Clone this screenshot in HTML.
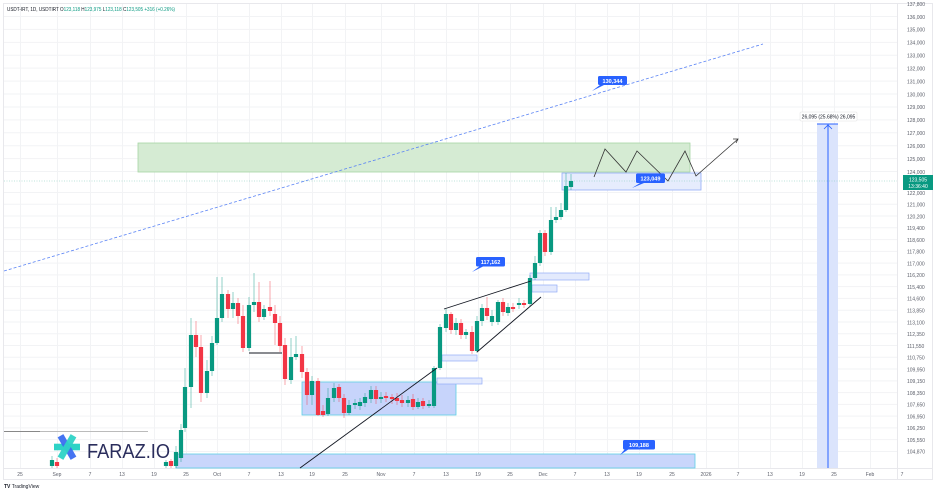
<!DOCTYPE html>
<html><head><meta charset="utf-8"><style>
html,body{margin:0;padding:0;background:#fff;}
body{width:936px;height:492px;overflow:hidden;font-family:"Liberation Sans",sans-serif;}
svg{display:block}
</style></head><body>
<svg id="s" width="936" height="492" viewBox="0 0 936 492" xmlns="http://www.w3.org/2000/svg" font-family="Liberation Sans, sans-serif">
<rect x="0" y="0" width="936" height="492" fill="#fff"/>
<g id="grid" stroke="#f2f3f5" stroke-width="1"></g>
<rect x="3.5" y="3.5" width="929" height="476" fill="none" stroke="#e8e8ec"/>
<line x1="897.5" y1="4" x2="897.5" y2="479" stroke="#e8e8ec"/>
<line x1="4" y1="468.5" x2="932" y2="468.5" stroke="#e8e8ec"/>
<!-- header -->
<text x="7" y="11" font-size="5" fill="#131722" textLength="168" lengthAdjust="spacingAndGlyphs">USDT-IRT, 1D, USDTIRT  O<tspan fill="#089981">123,118</tspan>  H<tspan fill="#089981">123,975</tspan>  L<tspan fill="#089981">123,118</tspan>  C<tspan fill="#089981">123,505</tspan>  <tspan fill="#089981">+316 (+0.26%)</tspan></text>
<!-- zones -->
<rect x="138" y="143" width="552" height="29" fill="#d5ebd3" stroke="#a6d5a4" stroke-width="0.8"/>
<rect x="562" y="173" width="139" height="17" fill="#e6ecfd" stroke="#93acf7" stroke-width="0.8"/>
<rect x="302" y="382" width="154" height="33" fill="#c7d4fb" stroke="#5ecfe6" stroke-width="0.8"/>
<rect x="176" y="454" width="519" height="14" fill="#c9d6fb" stroke="#5ecfe6" stroke-width="0.8"/>
<rect x="530" y="273" width="59" height="7" fill="#e3eafd" stroke="#93acf7" stroke-width="0.7"/>
<rect x="532" y="285" width="25" height="7" fill="#e3eafd" stroke="#93acf7" stroke-width="0.7"/>
<rect x="442" y="355" width="35" height="6" fill="#e3eafd" stroke="#93acf7" stroke-width="0.7"/>
<rect x="437" y="378" width="45" height="6" fill="#e3eafd" stroke="#93acf7" stroke-width="0.7"/>
<rect x="817" y="124" width="21" height="344" fill="#dbe4fc"/>
<line x1="828" y1="124" x2="828" y2="468" stroke="#2962ff" stroke-width="1"/>
<line x1="817" y1="124" x2="838" y2="124" stroke="#2962ff" stroke-width="1"/>
<path d="M824,129 L828,125 L832,129" fill="none" stroke="#2962ff" stroke-width="0.8"/>
<rect x="800" y="112" width="57" height="9" fill="#fff" stroke="#e0e0e0" stroke-width="0.5" rx="1"/>
<text x="828.5" y="118.6" font-size="5" text-anchor="middle" fill="#131722">26,095 (25.68%) 26,095</text>
<!-- dashed blue trendline -->
<line x1="4" y1="271" x2="763" y2="44" stroke="#5b84f5" stroke-width="0.8" stroke-dasharray="3,2"/>
<!-- current price line -->
<line x1="4" y1="181" x2="897" y2="181" stroke="#7fc9b8" stroke-width="0.6" stroke-dasharray="1,1.5"/>
<g id="candles"></g>
<!-- black lines -->
<g stroke="#131722" stroke-width="0.9" fill="none">
<line x1="300" y1="468" x2="437" y2="368"/>
<line x1="249" y1="353" x2="282" y2="353"/>
<line x1="444" y1="309" x2="531" y2="281"/>
<line x1="477" y1="352" x2="541" y2="297"/>
<polyline points="594,177 605,149 626,172 637,151 668,181 685,151 696,176 738,139" stroke="#333" stroke-width="0.8"/>
<path d="M733,139 L738,139 L736,143" stroke="#333" stroke-width="0.8"/>
</g>
<line x1="4" y1="431.5" x2="40" y2="431.5" stroke="#888" stroke-width="1"/>
<line x1="40" y1="431.5" x2="148" y2="431.5" stroke="#bbb" stroke-width="1"/>
<!-- labels -->
<g font-size="5.5" font-weight="bold" fill="#fff" text-anchor="middle">
<path d="M600,85 L592,91 L604,85Z" fill="#2962ff"/><rect x="598" y="76" width="29" height="9" rx="1.5" fill="#2962ff"/><text x="612.5" y="82.8">130,344</text>
<path d="M480,266 L472,272 L484,266Z" fill="#2962ff"/><rect x="476" y="257" width="29" height="9.5" rx="1.5" fill="#2962ff"/><text x="490.5" y="264">117,162</text>
<path d="M640,183 L632,188 L644,183Z" fill="#2962ff"/><rect x="636" y="173.5" width="29" height="9.5" rx="1.5" fill="#2962ff"/><text x="650.5" y="180.5">123,049</text>
<path d="M625,449 L620,455 L629,449Z" fill="#2962ff"/><rect x="623" y="440" width="32" height="9.5" rx="1.5" fill="#2962ff"/><text x="639" y="447">109,188</text>
</g>
<!-- price tag -->
<rect x="903" y="175" width="30" height="15" fill="#089981"/>
<text x="918" y="181.5" font-size="5" fill="#fff" text-anchor="middle">123,505</text>
<text x="918" y="187.8" font-size="5" fill="#fff" text-anchor="middle">13:36:40</text>
<g id="yl" font-size="5" fill="#5d606b"></g>
<g id="xl" font-size="5" fill="#5d606b" text-anchor="middle"></g>
<!-- logo -->
<g transform="translate(67,447)">
<rect x="-13" y="-3.3" width="26" height="6.6" fill="#2ed3c6"/>
<rect x="-13" y="-3.3" width="26" height="6.6" fill="#3b6df0" transform="rotate(60)" opacity="0.95"/>
<rect x="-13" y="-3.3" width="26" height="6.6" fill="#2ed3c6" transform="rotate(-60)" opacity="0.95"/>
</g>
<text x="87" y="458" font-size="20" fill="#2a2d5c" textLength="83" lengthAdjust="spacingAndGlyphs">FARAZ.IO</text>
<!-- footer -->
<text x="4" y="488" font-size="5" fill="#131722"><tspan font-weight="bold">TV</tspan> TradingView</text>
</svg>
<script>
var NS="http://www.w3.org/2000/svg";
function el(p,t,a,txt){var e=document.createElementNS(NS,t);for(var k in a)e.setAttribute(k,a[k]);if(txt)e.textContent=txt;p.appendChild(e);return e;}
var grid=document.getElementById('grid'),yl=document.getElementById('yl'),xl=document.getElementById('xl');
var ys=[["137,800",4]];
var up=["136,000","135,000","134,000","133,000","132,000","131,000","130,000","129,000","128,000","127,000","126,000","125,000","124,000"];
up.forEach(function(t,i){ys.push([t,17+i*12.92]);});
var lo=["122,000","121,000","120,200","119,400","118,600","117,800","117,000","116,200","115,400","114,600","113,850","113,100","112,350","111,550","110,750","109,950","109,150","108,350","107,650","106,950","106,250","105,550","104,870"];
lo.forEach(function(t,i){ys.push([t,193+i*11.77]);});
ys.forEach(function(a){var y=a[1];if(y>6){el(grid,'line',{x1:4,x2:897,y1:y-0.5,y2:y-0.5});}
 el(yl,'text',{x:907,y:y+1.8},a[0]);});
var xs=[["25",20],["Sep",57],["7",90],["13",122],["19",154],["25",186],["Oct",217],["7",249],["13",281],["19",312],["25",345],["Nov",381],["7",414],["13",446],["19",478],["25",510],["Dec",543],["7",575],["13",607],["19",639],["25",672],["2026",706],["7",738],["13",770],["19",802],["25",834],["Feb",870],["7",902]];
xs.forEach(function(a){if(a[1]<897)el(grid,'line',{x1:a[1]+0.5,x2:a[1]+0.5,y1:4,y2:468});el(xl,'text',{x:a[1],y:476},a[0]);});
var G="#089981",R="#f23645";
var C=[[52,460,466,456,468,G],[57,462,466,458,468,R],[166,462,466,460,468,G],[171,461,466,459,468,R],[176,452,466,446,468,G],[181,430,458,424,462,G],
[185,387,428,368,432,G],[191,335,387,318,408,G],[196,335,347,321,357,R],[201,347,393,335,402,R],[207,371,393,360,398,G],[212,343,371,336,376,G],[217,318,343,277,345,G],[222,294,318,277,322,G],[228,294,309,290,318,R],[233,303,309,292,318,G],[238,303,316,298,324,R],[243,316,348,305,352,R],[249,305,348,297,351,G],[254,302,305,273,312,G],[259,302,317,282,322,R],[264,309,317,305,320,G],[270,307,311,281,316,R],[275,314,323,305,345,R],[280,323,346,316,352,R],[285,345,379,338,385,R],[291,357,380,338,384,G],[296,354,357,336,360,G],[302,354,372,346,378,R],[307,372,395,368,405,R],[312,381,395,376,405,G],[318,381,415,378,416,R],[323,411,415,405,417,R],[328,398,414,388,416,G],[334,388,398,383,402,G],[339,387,398,384,402,R],[344,398,413,394,418,R],[349,405,413,400,415,G],[355,403,405,399,409,G],[360,402,406,398,410,G],[365,397,403,393,407,G],[371,390,399,386,403,G],[376,390,399,386,404,R],[381,397,399,392,403,G],[386,396,398,392,402,R],[392,397,399,394,404,R],[397,398,401,393,405,R],[402,400,403,395,407,R],[408,400,403,396,407,G],[413,399,407,394,410,R],[418,402,407,398,409,G],[423,401,406,398,409,R],[429,404,406,400,408,G],
[434,368,406,366,408,G],[440,327,368,324,370,G],[446,314,328,309,332,G],[451,314,330,312,334,R],[456,323,330,318,335,G],[461,323,335,319,339,R],[466,332,335,329,339,G],[472,332,351,326,354,R],[477,321,351,316,353,G],[482,308,321,304,326,G],[487,308,316,297,320,R],[492,316,322,310,326,G],[498,302,322,300,325,G],[503,302,312,298,316,R],[508,307,313,303,316,G],[513,307,309,303,312,R],[519,303,305,298,309,G],[524,303,305,300,308,R],[530,278,304,275,306,G],[535,263,278,256,280,G],[540,233,263,230,266,G],[545,233,252,230,256,R],[551,220,252,207,255,G],[556,217,220,207,223,G],[561,210,217,203,220,G],[566,186,210,173,212,G],[571,181,187,174,190,G]];
var cg=document.getElementById('candles');
C.forEach(function(c){var x=c[0];el(cg,'line',{x1:x,x2:x,y1:c[3],y2:c[4],stroke:c[5],'stroke-width':0.8,opacity:0.55});
el(cg,'rect',{x:x-2.1,y:c[1],width:4.2,height:Math.max(1,c[2]-c[1]),fill:c[5]});});
</script>
</body></html>
